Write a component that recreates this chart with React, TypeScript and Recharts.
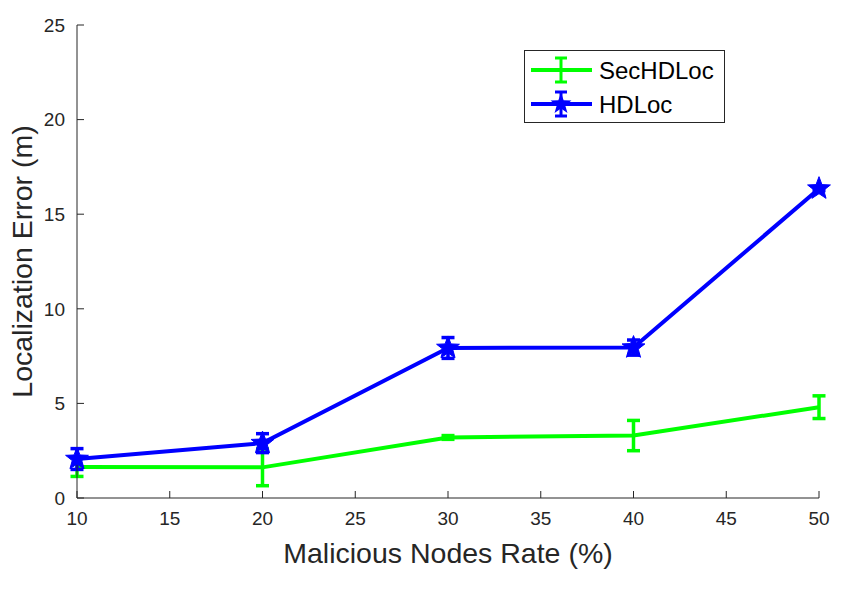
import { LineChart, Line, XAxis, YAxis, ErrorBar, Legend } from "recharts";

const rates = [10, 20, 30, 40, 50];
const secHDLoc = [1.64, 1.62, 3.2, 3.3, 4.8];
const secHDLocErr = [0.5, 0.97, 0.1, 0.8, 0.6];
const hdLoc = [2.06, 2.9, 7.93, 7.95, 16.35];
const hdLocErr = [0.55, 0.5, 0.55, 0.4, 0.1];
const xTicks = [10, 15, 20, 25, 30, 35, 40, 45, 50];
const yTicks = [0, 5, 10, 15, 20, 25];

const FONT = '"Liberation Sans", Arial, Helvetica, sans-serif';
const AXIS = "#262626";
const GREEN = "#00ff00";
const BLUE = "#0000ff";

const rows = rates.map((r, i) => ({
  rate: r,
  sec: secHDLoc[i],
  secErr: secHDLocErr[i],
  hd: hdLoc[i],
  hdErr: hdLocErr[i],
}));

function starPoints(cx: number, cy: number, ro: number, ri: number) {
  const pts: string[] = [];
  for (let k = 0; k < 10; k++) {
    const r = k % 2 === 0 ? ro : ri;
    const a = -Math.PI / 2 + (k * Math.PI) / 5;
    pts.push(`${cx + r * Math.cos(a)},${cy + r * Math.sin(a)}`);
  }
  return pts.join(" ");
}

function Star(props: any) {
  const { cx, cy, index } = props;
  if (cx == null || cy == null) return <g key={index} />;
  return <polygon key={index} points={starPoints(cx, cy, 12, 5)} fill={BLUE} stroke={BLUE} strokeWidth={1} />;
}

const noTick = () => <g />;

function LegendBox() {
  const item = (y: number, color: string, label: string, star: boolean) => (
    <g>
      <line x1={7} x2={68} y1={y} y2={y} stroke={color} strokeWidth={4} />
      <line x1={37} x2={37} y1={y - 12} y2={y + 12} stroke={color} strokeWidth={3} />
      <line x1={31} x2={43} y1={y - 12} y2={y - 12} stroke={color} strokeWidth={3} />
      <line x1={31} x2={43} y1={y + 12} y2={y + 12} stroke={color} strokeWidth={3} />
      {star && <polygon points={starPoints(37, y, 11, 4.5)} fill={color} />}
      <text x={75} y={y} dominantBaseline="central" fontSize={24} fontFamily={FONT} fill="#000">
        {label}
      </text>
    </g>
  );
  return (
    <svg width={201} height={74} style={{ display: "block" }}>
      <rect x={0.5} y={0.5} width={200} height={72} fill="#fff" stroke={AXIS} strokeWidth={1} />
      {item(20, GREEN, "SecHDLoc", false)}
      {item(54, BLUE, "HDLoc", true)}
    </svg>
  );
}

export default function App() {
  return (
    <div style={{ position: "absolute", left: 0, top: 0, width: 844, height: 611, background: "#fff" }}>
      <LineChart width={844} height={611} data={rows} margin={{ top: 25, right: 25, bottom: 0, left: 0 }}>
        <XAxis
          dataKey="rate"
          type="number"
          domain={[10, 50]}
          ticks={xTicks}
          interval={0}
          stroke={AXIS}
          tickSize={-7}
          tickMargin={21}
          height={113}
          tick={{ fill: AXIS, fontSize: 19, fontFamily: FONT }}
          label={{ value: "Malicious Nodes Rate (%)", position: "insideTop", offset: 45, fill: AXIS, fontSize: 28.5, fontFamily: FONT }}
        />
        <XAxis
          xAxisId="top"
          dataKey="rate"
          type="number"
          orientation="top"
          domain={[10, 50]}
          ticks={xTicks}
          interval={0}
          stroke={AXIS}
          tickSize={-7}
          height={0}
          tick={noTick}
        />
        <YAxis
          type="number"
          domain={[0, 25]}
          ticks={yTicks}
          interval={0}
          stroke={AXIS}
          tickSize={-7}
          tickMargin={19}
          width={77}
          tick={{ fill: AXIS, fontSize: 19, fontFamily: FONT }}
          label={{ value: "Localization Error (m)", angle: -90, position: "center", dx: -17, fill: AXIS, fontSize: 28.5, fontFamily: FONT }}
        />
        <YAxis
          yAxisId="right"
          orientation="right"
          type="number"
          domain={[0, 25]}
          ticks={yTicks}
          interval={0}
          stroke={AXIS}
          tickSize={-7}
          width={0}
          tick={noTick}
        />
        <Legend
          layout="horizontal"
          verticalAlign="middle"
          align="center"
          content={() => <LegendBox />}
          wrapperStyle={{ position: "absolute", left: 524, top: 50, width: 201, height: 74 }}
        />
        <Line
          type="linear"
          dataKey="sec"
          name="SecHDLoc"
          stroke={GREEN}
          strokeWidth={4}
          dot={false}
          activeDot={false}
          isAnimationActive={false}
        >
          <ErrorBar dataKey="secErr" width={6.5} strokeWidth={3.5} stroke={GREEN} direction="y" isAnimationActive={false} />
        </Line>
        <Line
          type="linear"
          dataKey="hd"
          name="HDLoc"
          stroke={BLUE}
          strokeWidth={4}
          dot={Star}
          activeDot={false}
          isAnimationActive={false}
        >
          <ErrorBar dataKey="hdErr" width={6.5} strokeWidth={3.5} stroke={BLUE} direction="y" isAnimationActive={false} />
        </Line>
      </LineChart>
    </div>
  );
}
